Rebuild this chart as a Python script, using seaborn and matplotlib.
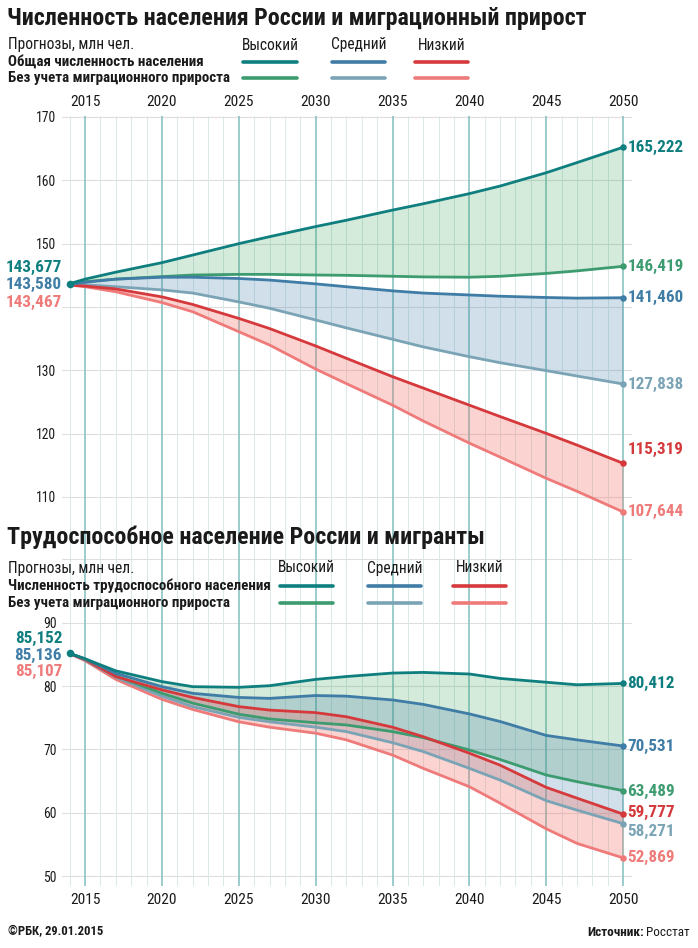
import pandas as pd
import numpy as np
import matplotlib.pyplot as plt
import seaborn as sns
from matplotlib.lines import Line2D
from matplotlib import font_manager

sns.set_style("white")

# ищем узкий шрифт, если он есть
_fonts = [(f.name, str(f.stretch)) for f in font_manager.fontManager.ttflist]
_names = {n for n, _ in _fonts}
font_stretch = "normal"
font_main = "Roboto"
for cand in ["Roboto Condensed", "Liberation Sans Narrow", "Open Sans Condensed", "PT Sans Narrow"]:
    if cand in _names:
        font_main = cand
        break
else:
    for fam in ["Noto Sans", "Open Sans", "DejaVu Sans"]:
        if (fam, "condensed") in _fonts or (fam, "semi-condensed") in _fonts:
            font_main = fam
            font_stretch = "condensed"
            break
plt.rcParams['font.family'] = [font_main, 'DejaVu Sans']
plt.rcParams['font.stretch'] = font_stretch

W, H = 698, 948

# годы, по которым сняты значения с графика
years = [2014, 2015, 2017, 2020, 2022, 2025, 2027, 2030, 2032, 2035, 2037, 2040, 2042, 2045, 2047, 2050]

# Численность населения, млн чел.
pop_high = [143.677, 144.4, 145.5, 147.0, 148.2, 150.0, 151.1, 152.7, 153.7, 155.3, 156.3, 157.9, 159.1, 161.2, 162.8, 165.222]
pop_high_nomig = [143.677, 144.0, 144.4, 144.8, 145.05, 145.15, 145.15, 145.05, 145.0, 144.85, 144.75, 144.7, 144.85, 145.3, 145.7, 146.419]
pop_mid = [143.580, 143.9, 144.4, 144.7, 144.7, 144.5, 144.25, 143.65, 143.2, 142.55, 142.2, 141.9, 141.7, 141.5, 141.4, 141.460]
pop_mid_nomig = [143.580, 143.5, 143.2, 142.7, 142.2, 140.8, 139.8, 137.95, 136.7, 134.9, 133.7, 132.15, 131.2, 129.95, 129.1, 127.838]
pop_low = [143.467, 143.3, 142.85, 141.6, 140.4, 138.2, 136.6, 133.85, 131.9, 129.0, 127.2, 124.5, 122.7, 120.05, 118.2, 115.319]
pop_low_nomig = [143.467, 143.2, 142.4, 140.7, 139.25, 136.1, 134.0, 130.2, 127.9, 124.5, 122.0, 118.5, 116.3, 112.95, 110.9, 107.644]

# Трудоспособное население, млн чел.
work_high = [85.152, 84.3, 82.4, 80.7, 79.9, 79.8, 80.05, 81.05, 81.5, 82.05, 82.15, 81.9, 81.2, 80.6, 80.2, 80.412]
work_high_nomig = [85.152, 84.2, 81.6, 78.85, 77.3, 75.55, 74.8, 74.2, 73.85, 72.8, 71.85, 69.9, 68.4, 65.95, 64.9, 63.489]
work_mid = [85.136, 84.3, 82.0, 79.9, 78.85, 78.2, 78.05, 78.5, 78.4, 77.8, 77.1, 75.6, 74.4, 72.2, 71.5, 70.531]
work_mid_nomig = [85.136, 84.1, 81.4, 78.4, 76.75, 75.05, 74.35, 73.5, 72.8, 71.05, 69.65, 67.0, 65.15, 61.9, 60.4, 58.271]
work_low = [85.107, 84.2, 81.5, 79.4, 78.2, 76.75, 76.2, 75.8, 75.15, 73.5, 72.0, 69.4, 67.5, 64.0, 62.3, 59.777]
work_low_nomig = [85.107, 84.0, 81.05, 77.9, 76.3, 74.35, 73.5, 72.55, 71.5, 69.1, 67.0, 64.1, 61.5, 57.45, 55.15, 52.869]

scenarios = ["Высокий", "Средний", "Низкий"]

# подписи оси Y (140 в оригинале закрыта подписями стартовых значений)
pop_yticks = [110, 120, 130, 150, 160, 170]
work_yticks = [50, 60, 70, 80, 90]

colors = {
    "high": "#0e7f7e", "high_nomig": "#3d9b70",
    "mid": "#3f7ca6", "mid_nomig": "#7aa4b5",
    "low": "#d5393c", "low_nomig": "#ef7a7a",
}
fills = {"high": ("#3ca05a", 0.22), "mid": ("#4682aa", 0.25), "low": ("#f56e64", 0.30)}
INK = "#1a1a1a"


def fx(px):
    return px / W


def fy(py):
    return 1 - py / H


fig = plt.figure(figsize=(W / 100, H / 100), dpi=100)
renderer = fig.canvas.get_renderer()


def fit_size(sample, width_px, weight="normal"):
    # подбираем кегль так, чтобы ширина строки совпала с оригиналом
    t = fig.text(0, 0, sample, fontsize=10, weight=weight)
    w = t.get_window_extent(renderer).width
    t.remove()
    return 10 * width_px / w


SZ_TITLE = fit_size("Численность населения России и миграционный прирост", 580, "bold")
SZ_REG = fit_size("Прогнозы, млн чел.", 127)
SZ_BOLD = fit_size("Общая численность населения", 196, "bold")
SZ_NUM = fit_size("165,222", 56, "bold")
SZ_YEAR = fit_size("2015", 30)
SZ_YTICK = fit_size("170", 20)
SZ_FOOT = fit_size("©РБК, 29.01.2015", 96, "bold")


def make_df(series):
    rows = []
    for name, vals in series.items():
        for y, v in zip(years, vals):
            rows.append({"year": y, "value": v, "series": name})
    return pd.DataFrame(rows)


def fmt(v):
    return f"{v:.3f}".replace(".", ",")


def draw_panel(ax, series, ylim, ygrid, yticks, start_off, end_off, ticks_top):
    ax.set_xlim(2013.5, 2050.58)
    ax.set_ylim(*ylim)
    for g in ygrid:
        ax.axhline(g, color="#dedede", lw=0.8, zorder=0)
    for yr in range(2014, 2051):
        major = yr % 5 == 0
        ax.axvline(yr, color="#8cc3c3" if major else "#d8e9e9",
                   lw=1.2 if major else 0.7, zorder=0.5)

    for key in ["high", "mid", "low"]:
        c, a = fills[key]
        ax.fill_between(years, series[key], series[key + "_nomig"],
                        color=c, alpha=a, lw=0, zorder=1)

    df = make_df(series)
    order = ["low_nomig", "mid_nomig", "high_nomig", "low", "mid", "high"]
    sns.lineplot(data=df, x="year", y="value", hue="series", hue_order=order,
                 palette=colors, linewidth=2.0, legend=False, ax=ax, zorder=3)

    for key in order:
        vals = series[key]
        ax.scatter([years[-1]], [vals[-1]], s=22, color=colors[key], zorder=4, lw=0)
    ax.scatter([years[0]], [series["high"][0]], s=30, color=colors["high"], zorder=5, lw=0)

    # подписи начальных значений
    for key, off in zip(["high", "mid", "low_nomig"], start_off):
        ax.annotate(fmt(series[key][0]), (years[0], series["mid"][0]),
                    xytext=(-5.5, -off * 0.72), textcoords="offset points",
                    ha="right", va="center", fontsize=SZ_NUM, weight="bold",
                    color=colors[key], zorder=6)
    # подписи конечных значений
    for key, off in end_off.items():
        ax.annotate(fmt(series[key][-1]), (years[-1], series[key][-1]),
                    xytext=(3, -off * 0.72), textcoords="offset points",
                    ha="left", va="center", fontsize=SZ_NUM, weight="bold",
                    color=colors[key], zorder=6)

    ax.set_xticks(range(2015, 2051, 5))
    ax.set_yticks(yticks)
    ax.set_xlabel("")
    ax.set_ylabel("")
    if ticks_top:
        ax.xaxis.tick_top()
    ax.tick_params(axis="x", length=0, labelsize=SZ_YEAR, pad=5, colors=INK)
    ax.tick_params(axis="y", length=0, labelsize=SZ_YTICK, pad=4, colors=INK)
    for s in ax.spines.values():
        s.set_visible(False)
    ax.set_facecolor("none")


def legend_block(y_head, y1, y2, x_cols, label1):
    fig.text(fx(8), fy(y_head), "Прогнозы, млн чел.", fontsize=SZ_REG, va="center", color=INK)
    fig.text(fx(8), fy(y1), label1, fontsize=SZ_BOLD, weight="bold", va="center", color=INK)
    fig.text(fx(8), fy(y2), "Без учета миграционного прироста", fontsize=SZ_BOLD, weight="bold",
             va="center", color=INK)
    for (x0, x1), name, k in zip(x_cols, scenarios, ["high", "mid", "low"]):
        fig.text(fx((x0 + x1) / 2), fy(y_head), name, fontsize=SZ_REG, ha="center", va="center",
                 color=INK)
        fig.add_artist(Line2D([fx(x0), fx(x1)], [fy(y1), fy(y1)], color=colors[k], lw=2.6,
                              transform=fig.transFigure))
        fig.add_artist(Line2D([fx(x0), fx(x1)], [fy(y2), fy(y2)], color=colors[k + "_nomig"],
                              lw=2.6, transform=fig.transFigure))


ax1 = fig.add_axes([fx(62), fy(520), fx(570), (520 - 116) / H])
pop = {"high": pop_high, "high_nomig": pop_high_nomig, "mid": pop_mid,
       "mid_nomig": pop_mid_nomig, "low": pop_low, "low_nomig": pop_low_nomig}
draw_panel(ax1, pop, (170 - (520 - 117) / 6.333, 170 + 1 / 6.333),
           range(110, 171, 10), pop_yticks,
           start_off=[-17, 0, 18],
           end_off={"high": 0, "high_nomig": 0, "mid": 0, "mid_nomig": 0, "low": -14, "low_nomig": 0},
           ticks_top=True)

ax2 = fig.add_axes([fx(62), fy(886), fx(570), (886 - 520) / H])
work = {"high": work_high, "high_nomig": work_high_nomig, "mid": work_mid,
        "mid_nomig": work_mid_nomig, "low": work_low, "low_nomig": work_low_nomig}
draw_panel(ax2, work, (90 - (886 - 622.7) / 6.333, 90 + (622.7 - 520) / 6.333),
           range(50, 101, 10), work_yticks,
           start_off=[-15, 2, 18],
           end_off={"high": 0, "high_nomig": 1, "mid": 0, "mid_nomig": 8, "low": -2, "low_nomig": 0},
           ticks_top=False)

fig.text(fx(7), fy(18), "Численность населения России и миграционный прирост",
         fontsize=SZ_TITLE, weight="bold", va="center", color=INK)
legend_block(45, 62, 78, [(243, 297), (332, 385), (415, 468)], "Общая численность населения")

fig.text(fx(7), fy(537), "Трудоспособное население России и мигранты",
         fontsize=SZ_TITLE, weight="bold", va="center", color=INK)
legend_block(568, 586, 603, [(280, 333), (368, 421), (453, 506)],
             "Численность трудоспособного населения")

fig.text(fx(8), fy(932), "©РБК, 29.01.2015", fontsize=SZ_FOOT, weight="bold", va="center",
         color=INK)
t_src = fig.text(fx(690), fy(932), "Росстат", fontsize=SZ_FOOT * 1.05, ha="right", va="center",
                 color=INK)
bb = t_src.get_window_extent(renderer)
fig.text(bb.x0 / W - fx(3), fy(932), "Источник:", fontsize=SZ_FOOT * 1.05, weight="bold",
         ha="right", va="center", color=INK)

fig.savefig("out.png", dpi=100)
